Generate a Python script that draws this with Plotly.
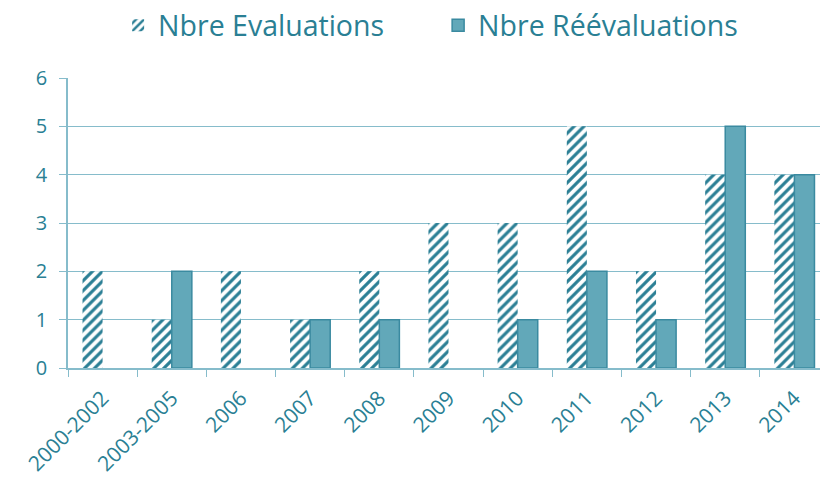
import plotly.graph_objects as go

categories = ["2000-2002", "2003-2005", "2006", "2007", "2008", "2009",
              "2010", "2011", "2012", "2013", "2014"]
evaluations = [2, 1, 2, 1, 2, 3, 3, 5, 2, 4, 4]
reevaluations = [0, 2, 0, 1, 1, 0, 1, 2, 1, 5, 4]

TEXT = "#2a7f94"
GRID = "#86bccb"

fig = go.Figure()
fig.add_trace(go.Bar(
    x=categories, y=[v if v else None for v in evaluations], name="Nbre Evaluations",
    marker=dict(color="white",
                pattern=dict(shape="/", fgcolor="#2b7f95", bgcolor="white",
                             size=7, solidity=0.45, fillmode="replace"),
                line=dict(width=0)),
))
fig.add_trace(go.Bar(
    x=categories, y=[v if v else None for v in reevaluations], name="Nbre Réévaluations",
    marker=dict(color="#62a8b9", line=dict(color="#3a8aa0", width=1.5)),
))

fig.update_layout(
    width=828, height=486,
    barmode="group", bargap=0.42, bargroupgap=0,
    plot_bgcolor="white", paper_bgcolor="white",
    font=dict(family="Open Sans", color=TEXT, size=20),
    margin=dict(l=60, r=7, t=70, b=126, autoexpand=False),
    legend=dict(orientation="h", xref="container", yref="paper",
                x=0.133, xanchor="left", y=1.18, yanchor="middle",
                font=dict(size=28.5, color=TEXT), itemwidth=30,
                entrywidth=275, bgcolor="rgba(0,0,0,0)",
                tracegroupgap=0),
    showlegend=True,
)
fig.update_xaxes(
    type="category", tickangle=-45, tickson="boundaries", ticks="outside",
    ticklen=7, tickcolor=GRID, showline=True, linecolor=GRID, linewidth=1.5,
    showgrid=False, tickfont=dict(size=21, color=TEXT), ticklabelstandoff=8,
)
fig.update_yaxes(
    range=[0, 6], dtick=1, showgrid=True, gridcolor=GRID, gridwidth=1.2,
    showline=True, linecolor=GRID, linewidth=1.5, ticks="outside", ticklen=7,
    tickcolor=GRID, zeroline=False, tickfont=dict(size=20, color=TEXT),
    ticklabelstandoff=8,
)

fig.write_html("out.html")
